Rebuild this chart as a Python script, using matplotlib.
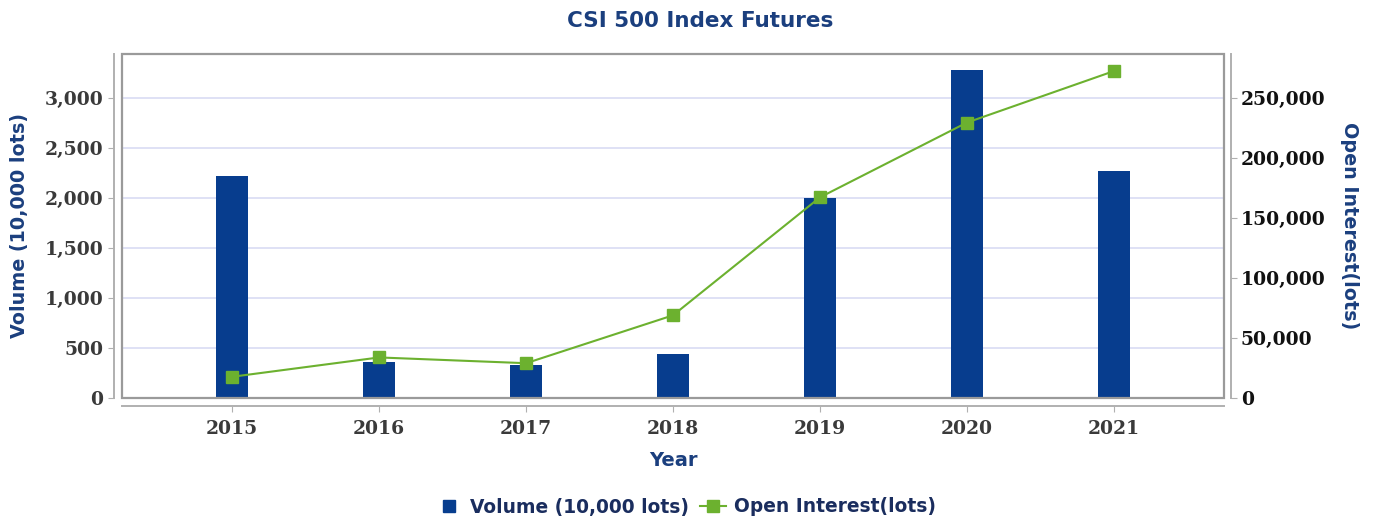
import numpy as np
import matplotlib
matplotlib.use("Agg")
import matplotlib.pyplot as plt
from matplotlib.patches import Rectangle
from matplotlib.lines import Line2D
from matplotlib.ticker import FuncFormatter

# data
years = ["2015", "2016", "2017", "2018", "2019", "2020", "2021"]
volume = [2220, 363, 330, 440, 1997, 3280, 2270]                      # 10,000 lots
open_interest = [17700, 33800, 29000, 68900, 167200, 229500, 272400]  # lots

bar_color = "#073d8e"
line_color = "#6cb12f"
navy = "#1b3f7e"
grid_color = "#d9dcf3"
frame_color = "#9a9a9a"

plt.rcParams["font.family"] = ["DejaVu Sans"]

fig = plt.figure(figsize=(13.74, 5.21), dpi=100)
ax = fig.add_axes([122 / 1374, 1 - 398 / 521, (1224 - 122) / 1374, (398 - 54) / 521])
ax2 = ax.twinx()

x = np.arange(len(years))
ax.bar(x, volume, width=0.22, color=bar_color, zorder=2)
ax2.plot(x, open_interest, color=line_color, lw=1.5, marker="s", markersize=9,
         markerfacecolor=line_color, markeredgecolor=line_color, zorder=3)

ax.set_xlim(-0.75, 6.75)
ax.set_ylim(0, 3440)
ax2.set_ylim(0, 3440 * 250000 / 3000)

ax.set_yticks(np.arange(0, 3001, 500))
ax2.set_yticks(np.arange(0, 250001, 50000))
ax.set_xticks(x)
ax.set_xticklabels(years)
comma = FuncFormatter(lambda v, p: f"{int(v):,}")
ax.yaxis.set_major_formatter(comma)
ax2.yaxis.set_major_formatter(comma)

ax.grid(axis="y", color=grid_color, lw=1.2, zorder=0)
ax.set_axisbelow(True)

# inner frame of the plot area
ax.add_patch(Rectangle((0, 0), 1, 1, transform=ax.transAxes, fill=False,
                       ec=frame_color, lw=1.6, clip_on=False, zorder=5))

# axis lines sit a little outside the frame
for a in (ax, ax2):
    for s in a.spines.values():
        s.set_visible(False)
for side in ("left", "bottom"):
    ax.spines[side].set_visible(True)
    ax.spines[side].set_position(("outward", 5.5))
    ax.spines[side].set_color("#b0b0b0")
    ax.spines[side].set_linewidth(1.4)
ax2.spines["right"].set_visible(True)
ax2.spines["right"].set_position(("outward", 5))
ax2.spines["right"].set_color("#b0b0b0")
ax2.spines["right"].set_linewidth(1.4)

ax.tick_params(axis="y", length=4, color="#b0b0b0", labelcolor="#3a3a3a", pad=4)
ax.tick_params(axis="x", length=4, color="#b0b0b0", labelcolor="#3a3a3a", pad=6)
ax2.tick_params(axis="y", length=4, color="#b0b0b0", labelcolor="#111111", pad=3)
for lbl in ax.get_yticklabels() + ax.get_xticklabels() + ax2.get_yticklabels():
    lbl.set_family("DejaVu Serif")
    lbl.set_fontsize(13.5)
    lbl.set_fontweight("bold")

ax.set_ylabel("Volume (10,000 lots)", color=navy, fontsize=13.8, fontweight="bold", labelpad=11)
ax2.set_ylabel("Open Interest(lots)", color=navy, fontsize=13.8, fontweight="bold",
               rotation=-90, labelpad=24)
ax.set_xlabel("Year", color=navy, fontsize=14, fontweight="bold", labelpad=10)

fig.text(700 / 1374, 1 - 21 / 521, "CSI 500 Index Futures", color=navy,
         fontsize=15.5, fontweight="bold", ha="center", va="center")

handles = [
    Line2D([], [], ls="none", marker="s", markersize=9, color=bar_color),
    Line2D([], [], color=line_color, lw=1.5, marker="s", markersize=8),
]
fig.legend(handles, ["Volume (10,000 lots)", "Open Interest(lots)"],
           loc="center", bbox_to_anchor=(686 / 1374, 1 - 507 / 521), ncol=2,
           frameon=False, handlelength=1.4, handletextpad=0.4, columnspacing=0.6,
           prop=dict(size=13.4, weight="bold"), labelcolor="#1a2d5e")

fig.savefig("out.png", dpi=100)
